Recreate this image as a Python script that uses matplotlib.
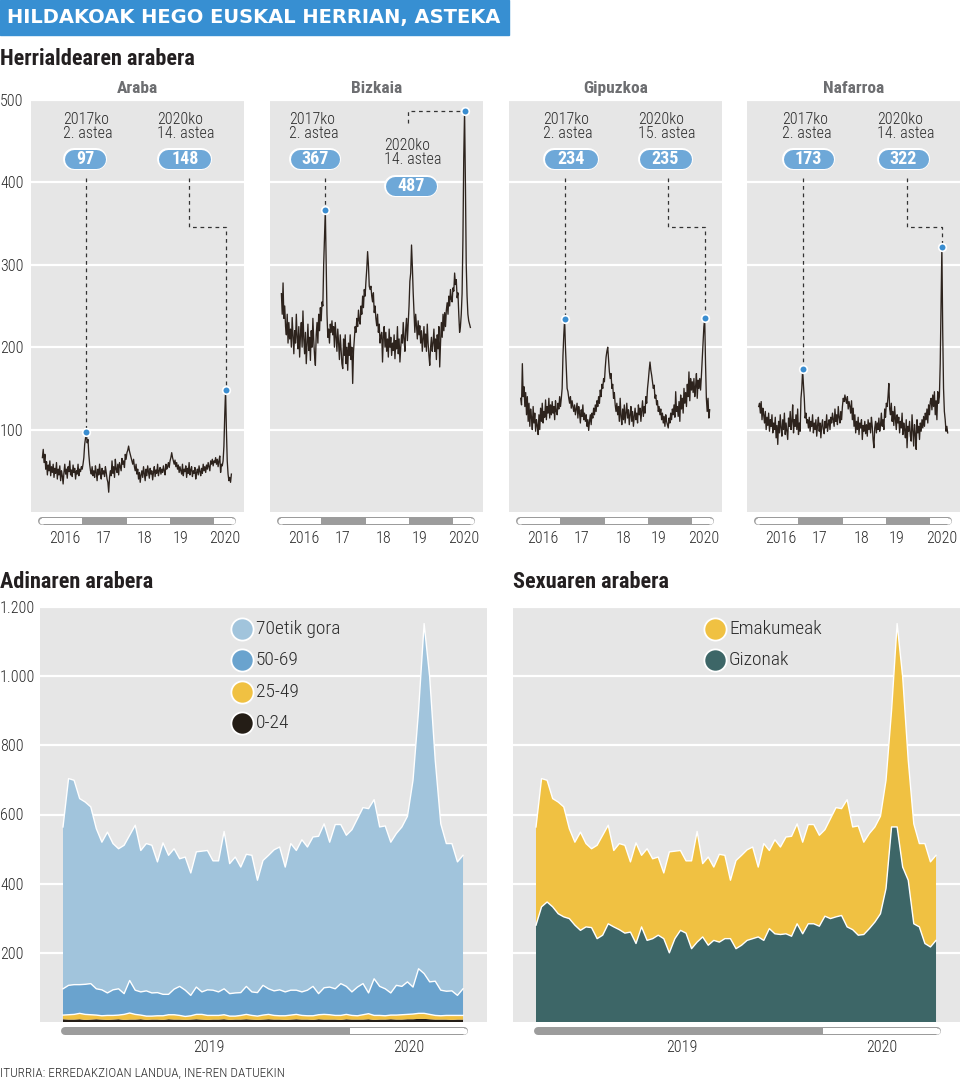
import numpy as np
import matplotlib
matplotlib.use('Agg')
import matplotlib.pyplot as plt

plt.rcParams['font.family'] = ['Roboto Condensed', 'Liberation Sans Narrow', 'Roboto', 'DejaVu Sans']

# weekly deaths by province, 2016 week 1 .. 2020 week 21 (229 weeks)
araba = [
    66, 76, 60, 70, 52, 61, 45, 57, 50, 62, 44, 55, 48,
    58, 42, 53, 47, 60, 40, 52, 45, 56, 38, 50, 44, 34,
    48, 58, 46, 52, 41, 55, 49, 62, 45, 51, 43, 57, 48,
    53, 40, 50, 46, 58, 44, 52, 49, 55, 52, 58, 66, 82,
    90, 97, 84, 88, 70, 58, 50, 46, 55, 44, 50, 42, 56,
    48, 38, 52, 45, 58, 47, 40, 53, 46, 50, 43, 55, 48,
    40, 36, 24, 42, 50, 44, 62, 47, 55, 42, 64, 52, 48,
    58, 45, 60, 55, 50, 65, 58, 62, 54, 70, 64, 72, 75,
    80, 74, 70, 66, 62, 58, 64, 55, 50, 58, 46, 52, 40,
    48, 36, 45, 50, 42, 55, 47, 38, 52, 44, 56, 48, 41,
    53, 46, 50, 39, 48, 55, 43, 51, 47, 58, 44, 50, 54,
    46, 52, 48, 56, 50, 45, 58, 52, 55, 60, 54, 62, 66,
    72, 66, 62, 58, 63, 55, 60, 52, 57, 48, 55, 50, 46,
    58, 44, 52, 49, 56, 42, 53, 47, 60, 45, 51, 55, 43,
    50, 47, 54, 40, 48, 52, 45, 56, 49, 44, 53, 47, 58,
    50, 55, 48, 57, 52, 60, 55, 50, 62, 58, 64, 56, 62,
    60, 66, 58, 64, 55, 62, 68, 48, 58, 56, 62, 80, 118,
    148, 100, 62, 46, 38, 42, 36, 46,
]
bizkaia = [
    265, 240, 278, 235, 250, 225, 215, 240, 205, 230, 210, 222, 200,
    236, 214, 192, 220, 205, 240, 212, 198, 225, 188, 215, 230, 200,
    244, 210, 192, 218, 180, 205, 228, 196, 212, 184, 220, 200, 235,
    208, 190, 178, 215, 230, 205, 240, 220, 248, 232, 255, 250, 300,
    335, 367, 300, 240, 212, 222, 205, 228, 218, 232, 215, 225, 200,
    230, 212, 195, 222, 205, 185, 215, 198, 180, 174, 210, 190, 215,
    180, 200, 172, 205, 190, 215, 185, 200, 156, 195, 210, 225, 218,
    235, 225, 245, 232, 228, 250, 240, 262, 248, 270, 262, 280, 295,
    316, 300, 274, 270, 274, 262, 255, 266, 242, 250, 235, 226, 240,
    218, 228, 205, 214, 218, 182, 214, 225, 200, 218, 195, 210, 188,
    222, 200, 212, 190, 205, 196, 215, 186, 208, 198, 225, 192, 210,
    182, 200, 215, 205, 230, 210, 195, 222, 235, 208, 228, 250, 280,
    290, 324, 298, 266, 242, 218, 240, 226, 210, 232, 215, 226, 205,
    220, 195, 210, 225, 200, 216, 195, 228, 205, 190, 178, 200, 212,
    195, 205, 222, 195, 210, 185, 215, 198, 225, 176, 205, 230, 212,
    240, 220, 242, 225, 245, 254, 240, 262, 250, 270, 258, 255, 272,
    268, 290, 276, 282, 260, 266, 240, 218, 225, 240, 265, 330, 430,
    487, 400, 300, 262, 240, 232, 228, 224,
]
gipuzkoa = [
    138, 130, 180, 140, 152, 128, 145, 118, 140, 110, 132, 104, 125,
    115, 100, 128, 108, 120, 98, 112, 105, 94, 118, 100, 126, 110,
    132, 108, 122, 115, 136, 112, 128, 120, 138, 114, 130, 118, 134,
    120, 128, 112, 135, 122, 118, 132, 125, 140, 128, 138, 150, 190,
    215, 234, 200, 174, 150, 146, 138, 132, 140, 126, 135, 128, 122,
    130, 118, 125, 132, 114, 128, 120, 108, 124, 116, 130, 112, 120,
    110, 118, 104, 112, 99, 110, 118, 106, 120, 114, 126, 118, 130,
    122, 135, 128, 140, 132, 148, 140, 155, 150, 162, 158, 175, 188,
    195, 200, 185, 170, 162, 168, 150, 155, 138, 145, 130, 122, 132,
    118, 128, 110, 138, 116, 106, 125, 112, 130, 108, 120, 132, 114,
    124, 106, 118, 128, 110, 122, 104, 116, 126, 112, 120, 108, 130,
    118, 126, 110, 122, 135, 116, 128, 120, 140, 132, 150, 160, 172,
    182, 172, 166, 158, 150, 154, 138, 142, 130, 135, 122, 128, 118,
    125, 112, 120, 108, 116, 104, 118, 110, 106, 102, 114, 108, 120,
    112, 125, 118, 130, 115, 146, 122, 128, 116, 134, 110, 142, 125,
    138, 120, 150, 132, 145, 128, 155, 140, 170, 135, 162, 148, 158,
    145, 162, 140, 152, 168, 138, 160, 150, 162, 148, 165, 185, 205,
    225, 235, 180, 138, 122, 138, 114, 124,
]
nafarroa = [
    128, 132, 120, 134, 112, 126, 118, 108, 122, 100, 115, 105, 120,
    98, 112, 104, 118, 96, 108, 100, 115, 90, 105, 82, 110, 96,
    118, 102, 92, 112, 100, 120, 94, 108, 98, 88, 114, 104, 122,
    100, 110, 130, 96, 112, 104, 118, 100, 125, 94, 108, 98, 138,
    150, 173, 154, 138, 114, 120, 108, 112, 102, 115, 98, 110, 104,
    118, 96, 108, 100, 112, 92, 105, 115, 98, 108, 90, 104, 112,
    100, 95, 110, 102, 118, 98, 106, 112, 100, 115, 108, 120, 112,
    104, 125, 110, 118, 106, 128, 115, 108, 122, 112, 128, 138, 134,
    142, 136, 132, 140, 125, 134, 128, 120, 135, 112, 126, 104, 118,
    96, 110, 100, 115, 94, 108, 102, 112, 88, 105, 98, 110, 95,
    106, 92, 112, 100, 108, 96, 115, 104, 88, 78, 102, 110, 96,
    108, 100, 114, 98, 106, 120, 104, 112, 100, 125, 115, 132, 128,
    140, 156, 125, 118, 132, 110, 122, 105, 128, 112, 100, 118, 108,
    115, 96, 110, 102, 120, 94, 108, 100, 90, 112, 78, 104, 98,
    110, 92, 86, 118, 100, 80, 106, 95, 76, 112, 96, 104, 88,
    108, 98, 112, 102, 116, 104, 120, 112, 125, 108, 130, 118, 134,
    138, 124, 142, 128, 146, 118, 135, 112, 146, 132, 140, 180, 250,
    322, 220, 150, 122, 112, 98, 104, 96,
]
provinces = ['Araba', 'Bizkaia', 'Gipuzkoa', 'Nafarroa']
series = [araba, bizkaia, gipuzkoa, nafarroa]
for s in series:
    assert len(s) == 229

# highlighted weeks (index into the series) and their labels
peaks = [
    [(53, '2017ko', '2. astea'), (221, '2020ko', '14. astea')],
    [(53, '2017ko', '2. astea'), (221, '2020ko', '14. astea')],
    [(53, '2017ko', '2. astea'), (222, '2020ko', '15. astea')],
    [(53, '2017ko', '2. astea'), (221, '2020ko', '14. astea')],
]
year_labels = ['2016', '17', '18', '19', '2020']

# weekly deaths 2019 week 1 .. 2020 week 21, by age and by sex
adin_0_24 = [
    8, 7, 7, 8, 6, 7, 8, 7, 6, 7,
    8, 6, 7, 7, 8, 6, 7, 7, 6, 8,
    7, 7, 6, 7, 8, 7, 6, 7, 7, 8,
    6, 7, 7, 8, 7, 6, 7, 8, 7, 7,
    6, 7, 8, 7, 7, 6, 8, 7, 7, 7,
    6, 8, 7, 7, 7, 8, 6, 7, 7, 8,
    7, 7, 8, 8, 9, 9, 8, 7, 7, 7,
    6, 7, 7,
]
adin_25_49 = [
    12, 14, 15, 17, 16, 14, 12, 11, 13, 12,
    12, 16, 19, 15, 12, 11, 10, 11, 12, 13,
    14, 12, 10, 11, 14, 15, 13, 12, 12, 13,
    11, 10, 12, 14, 12, 11, 13, 14, 12, 11,
    12, 13, 14, 12, 11, 12, 13, 15, 14, 12,
    13, 14, 12, 11, 14, 16, 13, 12, 11, 12,
    13, 14, 14, 15, 16, 16, 14, 12, 11, 12,
    13, 12, 12,
]
adin_50_69 = [
    76, 85, 86, 83, 87, 90, 76, 75, 65, 74,
    76, 60, 94, 70, 67, 73, 67, 67, 62, 59,
    74, 84, 76, 59, 79, 65, 74, 73, 68, 75,
    65, 67, 66, 81, 68, 68, 86, 74, 71, 75,
    69, 72, 70, 68, 74, 85, 61, 77, 80, 77,
    92, 81, 68, 83, 90, 60, 106, 84, 78, 64,
    86, 82, 94, 78, 129, 115, 94, 99, 74, 70,
    71, 58, 77,
]
adin_70 = [
    468, 598, 591, 538, 527, 511, 463, 427, 465, 423,
    405, 429, 420, 477, 409, 426, 427, 378, 438, 402,
    406, 369, 385, 354, 391, 407, 403, 374, 379, 455,
    376, 393, 363, 382, 395, 325, 361, 386, 408, 413,
    361, 424, 404, 440, 414, 432, 455, 474, 419, 475,
    460, 437, 469, 487, 509, 533, 518, 461, 471, 436,
    439, 461, 479, 598, 747, 1012, 882, 639, 481, 427,
    426, 386, 386,
]
gizonak = [
    280, 333, 347, 333, 313, 304, 299, 280, 265, 275,
    273, 241, 251, 284, 275, 267, 257, 260, 227, 275,
    236, 241, 251, 241, 200, 241, 265, 257, 212, 231,
    246, 222, 236, 231, 241, 241, 212, 222, 236, 241,
    246, 236, 270, 255, 253, 255, 248, 284, 255, 284,
    284, 277, 306, 299, 304, 308, 275, 267, 251, 253,
    270, 289, 313, 386, 564, 564, 448, 410, 284, 275,
    227, 217, 236,
]
emakumeak = [
    284, 371, 352, 313, 323, 318, 260, 240, 284, 241,
    228, 270, 289, 285, 221, 249, 254, 203, 291, 207,
    265, 231, 226, 190, 292, 253, 231, 209, 254, 320,
    212, 255, 212, 254, 241, 169, 255, 260, 262, 265,
    202, 280, 226, 272, 253, 280, 289, 289, 265, 287,
    287, 263, 250, 289, 316, 309, 368, 297, 316, 267,
    275, 275, 282, 313, 337, 588, 550, 347, 289, 241,
    289, 246, 246,
]
age_labels = ['0-24', '25-49', '50-69', '70etik gora']
sex_labels = ['Gizonak', 'Emakumeak']

BG = '#e6e6e6'
INK = '#2b2b2b'
SLIDER = '#9c9c9c'
PILL = '#6ea8d8'
DOT = '#3a8dd0'
age_colors = ['#241d16', '#f0c142', '#6aa3ce', '#a1c4dc']
sex_colors = ['#3d6667', '#f0c142']
LIGHT = dict(fontweight='light', color=INK)

W, H = 960, 1082
fig = plt.figure(figsize=(9.6, 10.82), dpi=100)


def fx(px):
    return px / W


def fy(py):
    return 1 - py / H


def slider(ax, bounds, kinds, y, ppu, h=8):
    a, b = bounds[0], bounds[-1]
    r = h / 2 / ppu
    ax.plot([a + r, b - r], [y, y], color=SLIDER, lw=h * 0.72,
            solid_capstyle='round', clip_on=False)
    for i, k in enumerate(kinds):
        if k != 'w':
            continue
        s = max(bounds[i], a + r)
        e = min(bounds[i + 1], b - r)
        ax.plot([s, e], [y, y], color='white', lw=(h - 2) * 0.72,
                solid_capstyle='butt', clip_on=False)
        if i == 0:
            ax.plot([a + r], [y], 'o', ms=(h - 2) * 0.72, color='white', mec='none', clip_on=False)
        if i == len(kinds) - 1:
            ax.plot([b - r], [y], 'o', ms=(h - 2) * 0.72, color='white', mec='none', clip_on=False)


# header
fig.patches.append(plt.Rectangle((0, fy(35)), fx(509), 35 / H, transform=fig.transFigure,
                                 color='#378fd2', zorder=0))
fig.text(fx(7), fy(18), 'HILDAKOAK HEGO EUSKAL HERRIAN, ASTEKA', color='white',
         fontsize=14, fontweight='heavy', va='center', family=['DejaVu Sans'])
for txt, x, y in [('Herrialdearen arabera', 0, 59), ('Adinaren arabera', 0, 582),
                  ('Sexuaren arabera', 513, 582)]:
    fig.text(fx(x), fy(y), txt, fontsize=16, fontweight='bold', color='#231f20', va='center')
fig.text(0, fy(1073), 'ITURRIA: ERREDAKZIOAN LANDUA, INE-REN DATUEKIN', fontsize=9.5,
         va='center', **LIGHT)

# ---- province panels ----
PPY = 43.1                     # pixels per year
YS = 412 / 500                 # pixels per death
panel_left = [31, 270, 509.3, 747.3]
panel_w = 212.6
x0 = 2016 - 11.4 / PPY
weeks = 2016 + np.arange(229) / 52
# annotation layout: (text left offset px, pill width px, text y px, pill y px, line kind, bend offset px)
layout = [
    [(32.3, 44, 119, 159, 'down', None), (126.3, 55, 119, 159, 'bend', 158.3)],
    [(19.3, 52, 119, 159, 'down', None), (114.0, 54, 145, 186, 'top', 137.7)],
    [(33.4, 56, 119, 159, 'down', None), (128.4, 55, 119, 159, 'bend', 159.0)],
    [(34.4, 53, 119, 159, 'down', None), (129.4, 53, 119, 159, 'bend', 160.0)],
]


def xd(off):
    return x0 + off / PPY


def yd(py):
    return (512 - py) / YS


for k, name in enumerate(provinces):
    ax = fig.add_axes([fx(panel_left[k]), fy(512), fx(panel_w), 412 / H])
    ax.set_facecolor(BG)
    ax.set_xlim(x0, x0 + panel_w / PPY)
    ax.set_ylim(0, 500)
    for sp in ax.spines.values():
        sp.set_visible(False)
    ax.set_yticks([100, 200, 300, 400, 500])
    ax.grid(axis='y', color='white', lw=1.6)
    ax.set_axisbelow(True)
    ax.tick_params(length=0)
    if k == 0:
        ax.tick_params(axis='y', pad=31 * 0.72, labelsize=11.5, labelcolor=INK)
        for t in ax.get_yticklabels():
            t.set_ha('left')
            t.set_fontweight('light')
    else:
        ax.set_yticklabels([])
    ax.set_xticks([2016.52, 2017.42, 2018.38, 2019.21, 2020.24])
    ax.set_xticklabels(year_labels, fontsize=11.5, fontweight='light', color=INK)
    ax.tick_params(axis='x', pad=14)
    ax.text(0.5, 1 + 12 / 412, name, transform=ax.transAxes, ha='center', va='center',
            fontsize=12.5, fontweight='bold', color='#6d6e71')

    s = series[k]
    ax.plot(weeks, s, color='#2d231d', lw=0.95, zorder=3)
    slider(ax, [2015.898, 2016.919, 2017.963, 2018.96, 2019.98, 2020.49],
           ['w', 'g', 'w', 'g', 'w'], yd(521), PPY)

    for (idx, l1, l2), (tx, pw, ty, py, kind, bend) in zip(peaks[k], layout[k]):
        xv, v = weeks[idx], s[idx]
        if kind == 'down':
            lx, ly = [xv, xv], [yd(178), v]
        elif kind == 'bend':
            lx = [xd(bend), xd(bend), xv, xv]
            ly = [yd(178), yd(226.7), yd(226.7), v]
        else:
            lx, ly = [xd(bend), xd(bend), xv], [yd(123), v, v]
        ax.plot(lx, ly, color='#333333', lw=0.9, ls=(0, (3, 3)), zorder=4)
        ax.scatter([xv], [v], s=30, color=DOT, edgecolor='white', lw=1.2, zorder=6)
        ax.text(xd(tx), yd(ty), l1, ha='left', va='center', fontsize=11.5, zorder=6, **LIGHT)
        ax.text(xd(tx), yd(ty + 14.5), l2, ha='left', va='center', fontsize=11.5, zorder=6, **LIGHT)
        px = [xd(tx + 11), xd(tx + pw - 11)]
        ax.plot(px, [yd(py)] * 2, color='white', lw=22 * 0.72, solid_capstyle='round', zorder=6)
        ax.plot(px, [yd(py)] * 2, color=PILL, lw=19 * 0.72, solid_capstyle='round', zorder=7)
        ax.text(xd(tx + pw / 2), yd(py), str(v), ha='center', va='center', color='white',
                fontsize=13, fontweight='bold', zorder=8)

# ---- age and sex panels ----
PPB = 288.9
xb = 2019 + np.arange(73) / 52
bx0 = 2019 - 23 / PPB
ybottom = 1022
bscale = 415 / 1200


def bottom_axes(left_px):
    ax = fig.add_axes([fx(left_px), fy(ybottom), fx(447), 415 / H])
    ax.set_facecolor(BG)
    ax.set_xlim(bx0, bx0 + 447 / PPB)
    ax.set_ylim(0, 1200)
    for sp in ax.spines.values():
        sp.set_visible(False)
    ax.set_yticks([200, 400, 600, 800, 1000, 1200])
    ax.grid(axis='y', color='white', lw=1.6)
    ax.set_axisbelow(True)
    ax.tick_params(length=0)
    ax.set_xticks([2019.505, 2020.198])
    ax.set_xticklabels(['2019', '2020'], fontsize=11.5, fontweight='light', color=INK)
    ax.tick_params(axis='x', pad=13)
    slider(ax, [2018.993, 2019.993, 2020.402], ['g', 'w'], -(1031 - ybottom) / bscale, PPB)
    return ax


def legend(ax, cx, tx, ys, labels, colors):
    for y, lab, c in zip(ys, labels, colors):
        ax.plot([fx(cx)], [fy(y)], 'o', ms=16, color=c, mec='white', mew=1.3,
                transform=fig.transFigure, clip_on=False, zorder=10)
        fig.text(fx(tx), fy(y), lab, fontsize=14, va='center', ha='left', **LIGHT)


ax = bottom_axes(40)
ax.tick_params(axis='y', pad=40 * 0.72, labelsize=11.5, labelcolor=INK)
ax.set_yticklabels(['200', '400', '600', '800', '1.000', '1.200'])
for t in ax.get_yticklabels():
    t.set_ha('left')
    t.set_fontweight('light')
age = [adin_0_24, adin_25_49, adin_50_69, adin_70]
ax.stackplot(xb, *age, colors=age_colors, lw=0, zorder=2)
for row in np.cumsum(age, axis=0)[1:]:
    ax.plot(xb, row, color='white', lw=1.0, zorder=3)
legend(ax, 242, 256, [629, 660, 692, 723], age_labels[::-1], age_colors[::-1])

ax = bottom_axes(513)
ax.set_yticklabels([])
sex = [gizonak, emakumeak]
ax.stackplot(xb, *sex, colors=sex_colors, lw=0, zorder=2)
for row in np.cumsum(sex, axis=0):
    ax.plot(xb, row, color='white', lw=1.0, zorder=3)
legend(ax, 715, 729, [629, 660], sex_labels[::-1], sex_colors[::-1])

fig.savefig('out.png', dpi=100)
